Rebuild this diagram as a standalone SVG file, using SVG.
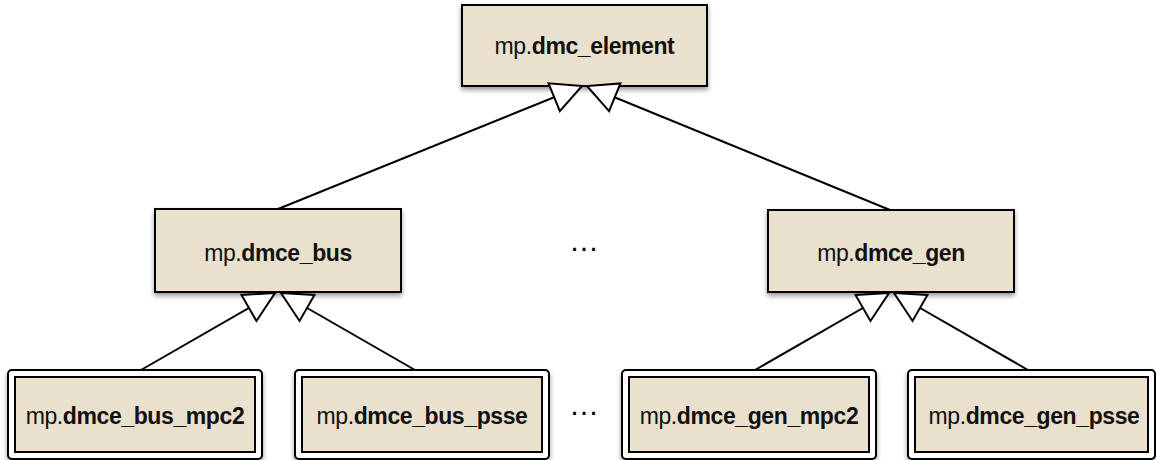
<svg xmlns="http://www.w3.org/2000/svg" width="1156" height="460" viewBox="0 0 1156 460">
<defs>
<filter id="sh" x="-10%" y="-20%" width="120%" height="150%">
<feDropShadow dx="0" dy="3" stdDeviation="2.5" flood-color="#000" flood-opacity="0.4"/>
</filter>
<marker id="tri" markerUnits="userSpaceOnUse" viewBox="-33 -18 36 36" markerWidth="36" markerHeight="36" refX="0" refY="0" orient="auto">
<path d="M0,0 L-30,-15 L-30,15 Z" fill="#fff" stroke="#000" stroke-width="2" stroke-linejoin="miter"/>
</marker>
<style>
.box{fill:#E9E0CE;stroke:#000;stroke-width:2}
.outer{fill:#fff;stroke:#000;stroke-width:2}
.lbl{font-family:"Liberation Sans",Arial,sans-serif;font-size:23px;letter-spacing:-0.4px;fill:#111;text-anchor:middle}
.lbl tspan.b{font-weight:bold}
.dots{font-family:"Liberation Sans",Arial,sans-serif;font-size:30px;fill:#000;text-anchor:middle}
.conn{stroke:#000;stroke-width:2;fill:none;marker-end:url(#tri)}
</style>
</defs>
<rect width="1156" height="460" fill="#fff"/>
<g id="dmc_element">
<rect class="box" x="462" y="5" width="245" height="81" filter="url(#sh)"/>
<text class="lbl" x="584.5" y="54">mp.<tspan class="b">dmc_element</tspan></text>
</g>
<g id="dmce_bus">
<rect class="box" x="155" y="209" width="246" height="83" filter="url(#sh)"/>
<text class="lbl" x="278" y="261">mp.<tspan class="b">dmce_bus</tspan></text>
</g>
<g id="dmce_gen">
<rect class="box" x="768" y="210" width="246" height="82" filter="url(#sh)"/>
<text class="lbl" x="891" y="261">mp.<tspan class="b">dmce_gen</tspan></text>
</g>
<g id="dmce_bus_mpc2">
<rect class="outer" x="8" y="370" width="254" height="89" rx="4" filter="url(#sh)"/>
<rect class="box" x="15" y="377" width="240" height="75"/>
<text class="lbl" x="135" y="424">mp.<tspan class="b">dmce_bus_mpc2</tspan></text>
</g>
<g id="dmce_bus_psse">
<rect class="outer" x="295" y="370" width="254" height="89" rx="4" filter="url(#sh)"/>
<rect class="box" x="302" y="377" width="240" height="75"/>
<text class="lbl" x="422" y="424">mp.<tspan class="b">dmce_bus_psse</tspan></text>
</g>
<g id="dmce_gen_mpc2">
<rect class="outer" x="622" y="370" width="254" height="89" rx="4" filter="url(#sh)"/>
<rect class="box" x="629" y="377" width="240" height="75"/>
<text class="lbl" x="749" y="424">mp.<tspan class="b">dmce_gen_mpc2</tspan></text>
</g>
<g id="dmce_gen_psse">
<rect class="outer" x="908" y="370" width="247" height="89" rx="4" filter="url(#sh)"/>
<rect class="box" x="915" y="377" width="233" height="75"/>
<text class="lbl" x="1034" y="424">mp.<tspan class="b">dmce_gen_psse</tspan></text>
</g>
<g id="ellipsis">
<text class="dots" x="584" y="251">…</text>
<text class="dots" x="584" y="415">…</text>
</g>
<g id="connectors">
<line class="conn" x1="278" y1="209" x2="582" y2="86"/>
<line class="conn" x1="890" y1="210" x2="587" y2="86"/>
<line class="conn" x1="141" y1="370" x2="275" y2="293"/>
<line class="conn" x1="415" y1="370" x2="281" y2="293"/>
<line class="conn" x1="755" y1="370" x2="889" y2="293"/>
<line class="conn" x1="1028" y1="370" x2="894" y2="293"/>
</g>
</svg>
